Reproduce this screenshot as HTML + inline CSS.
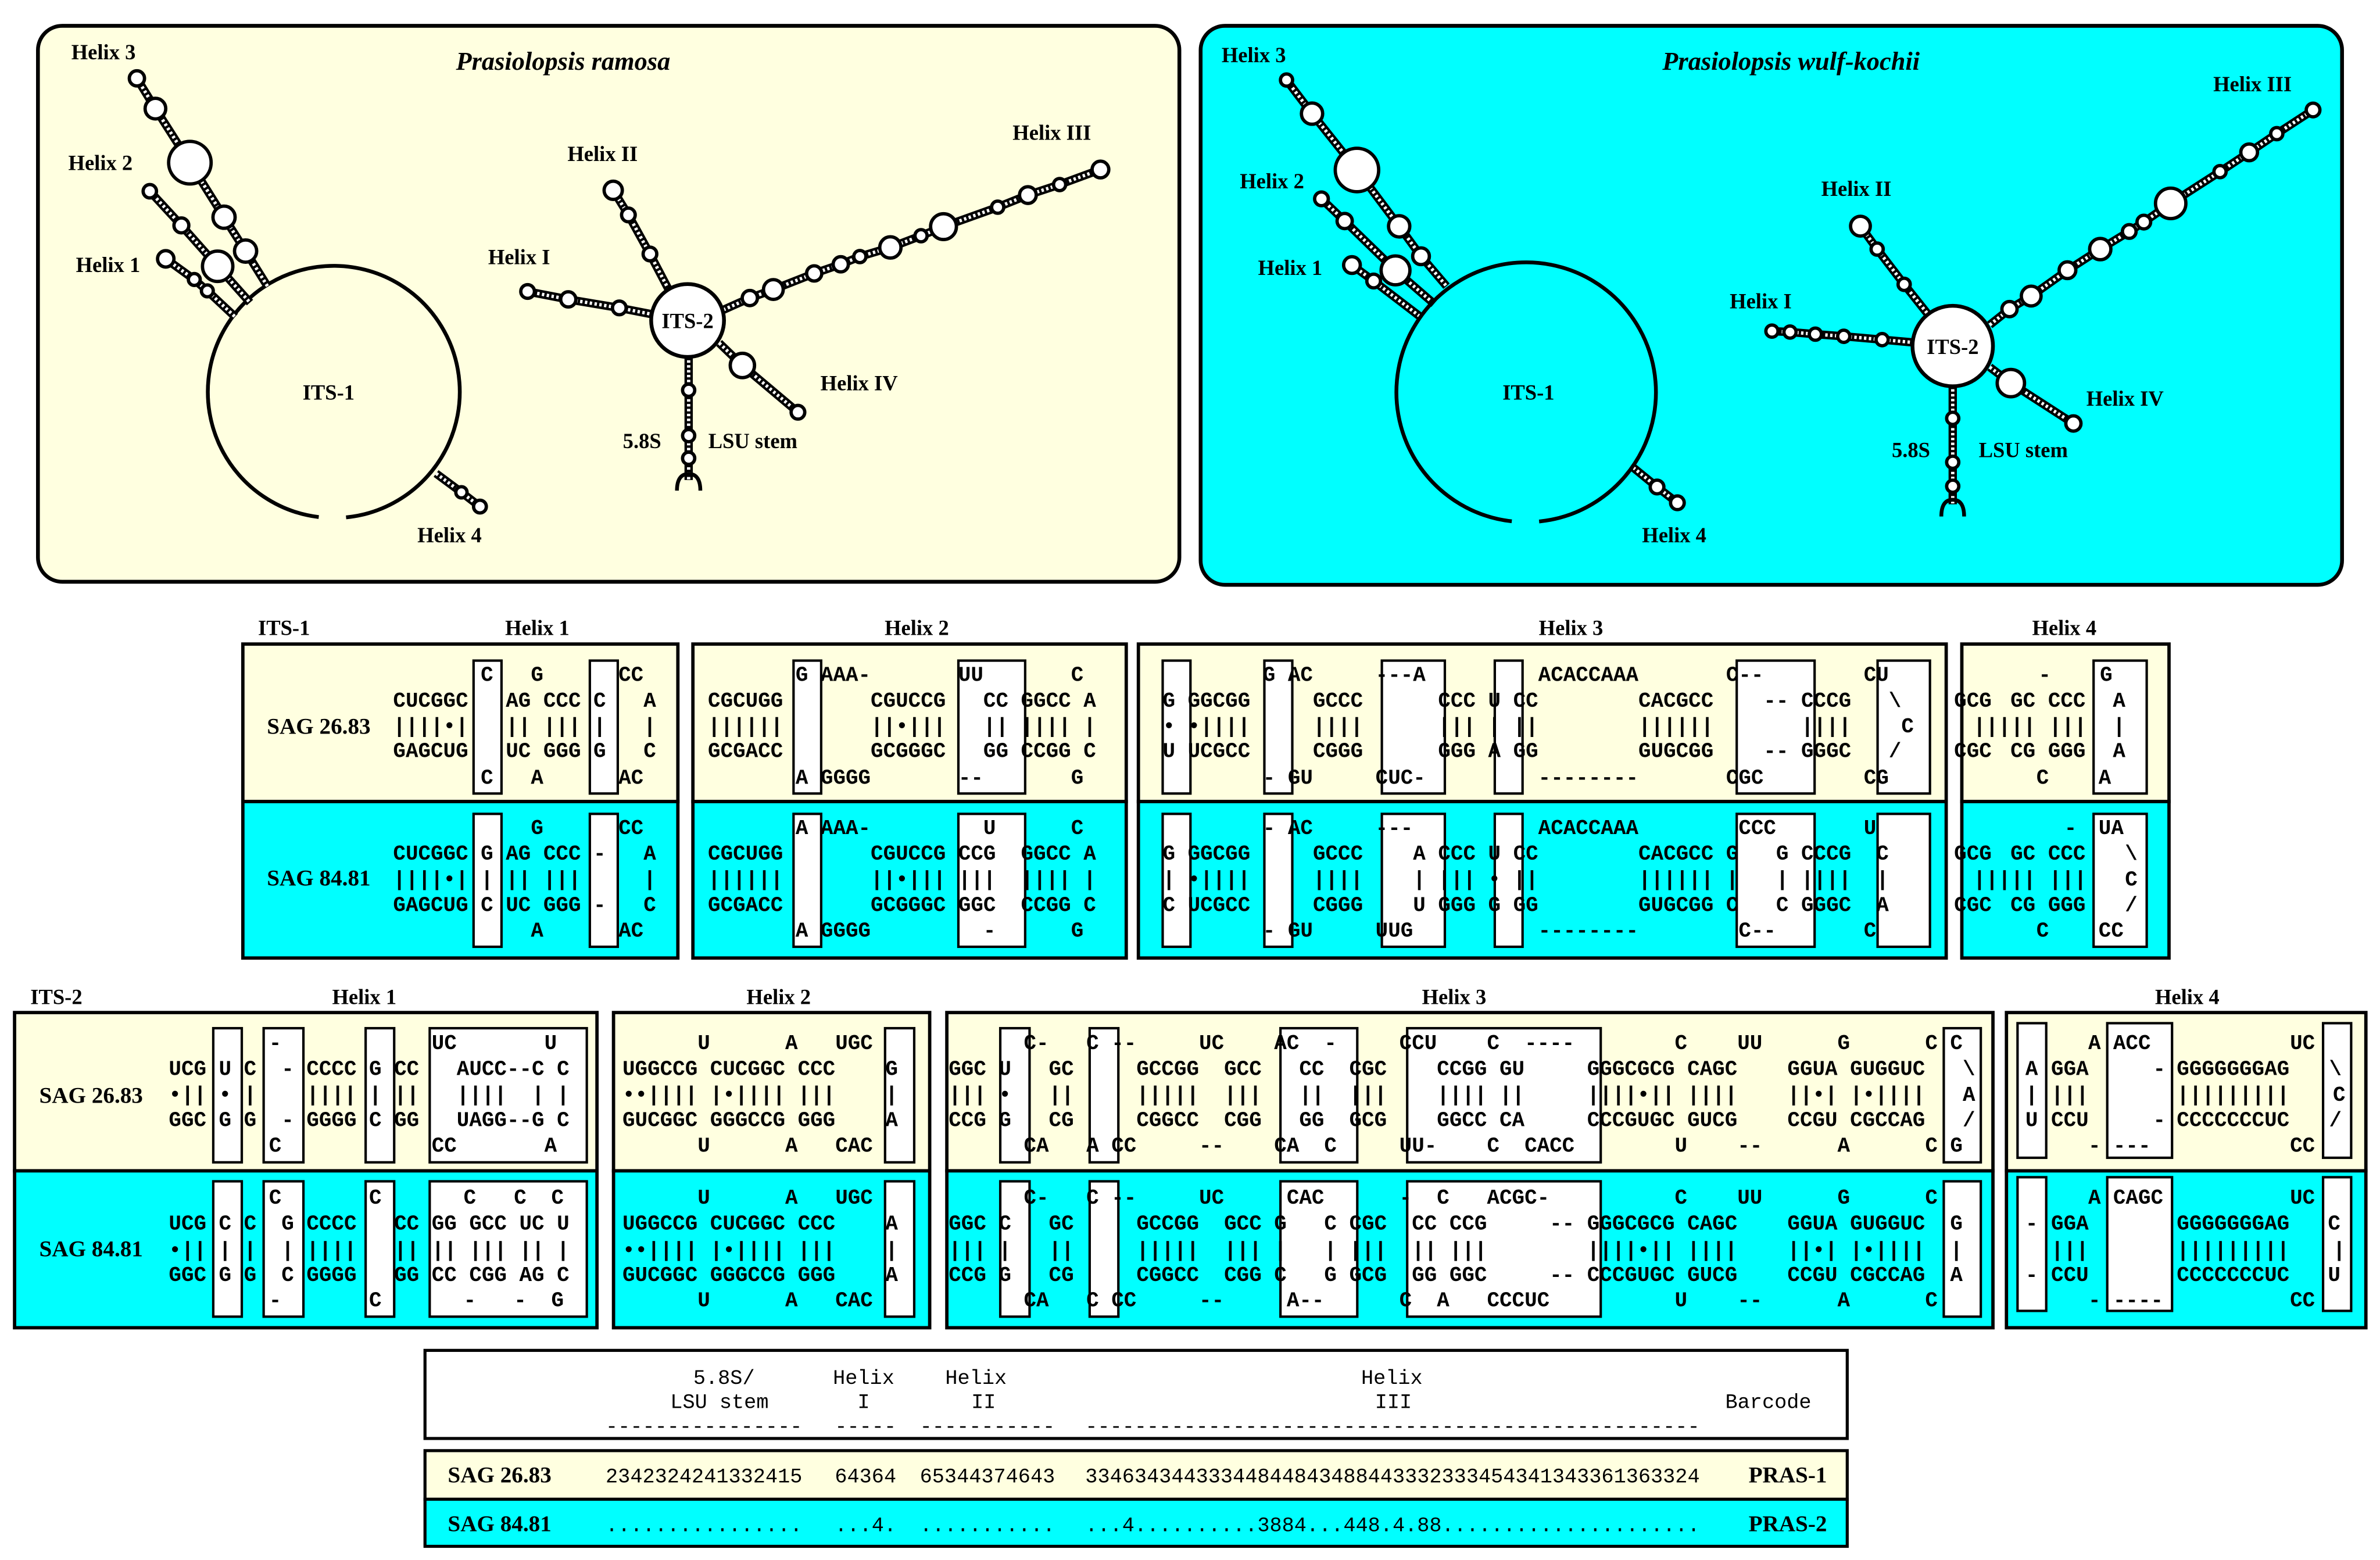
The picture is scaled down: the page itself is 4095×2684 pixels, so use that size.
<!DOCTYPE html>
<html><head><meta charset="utf-8"><style>
html,body{margin:0;padding:0;background:#fff}
svg{display:block}
.m{font-family:"Liberation Mono",monospace;font-size:13.75px;font-weight:bold;white-space:pre}
.t{font-family:"Liberation Serif",serif;font-weight:bold;font-size:14px}
.s{font-family:"Liberation Serif",serif;font-weight:bold;font-size:15px}
.stk{fill:none;stroke:#000;stroke-width:5.5;stroke-linejoin:round}
.stw{fill:none;stroke:#fff;stroke-width:2.2;stroke-dasharray:1.6 1.6}
.c{fill:#fff;stroke:#000;stroke-width:2.2}
.bx{fill:#fff;stroke:#000;stroke-width:1.6}
.pn{stroke:#000;stroke-width:2.2}
</style></head><body>
<svg width="4095" height="2684" viewBox="0 0 1568 1027" preserveAspectRatio="none" xmlns="http://www.w3.org/2000/svg" xml:space="preserve">
<rect width="1568" height="1027" fill="#fff"/>
<rect x="25" y="17" width="752" height="366" rx="16" fill="#FFFFE0" stroke="#000" stroke-width="2.5"/>
<rect x="791" y="17" width="752" height="368" rx="16" fill="#00FFFF" stroke="#000" stroke-width="2.5"/>
<text x="371" y="46" text-anchor="middle" font-family="Liberation Serif" font-weight="bold" font-style="italic" font-size="17">Prasiolopsis ramosa</text>
<text x="1180" y="46" text-anchor="middle" font-family="Liberation Serif" font-weight="bold" font-style="italic" font-size="17">Prasiolopsis wulf-kochii</text>
<path d="M228,340.6 A83,83 0 1,0 210,340.4" fill="none" stroke="#000" stroke-width="2.5"/>
<g>
<path id="l3" d="M90.2,51.6 L102.4,71.5 L125.1,107.1 L147.6,143 L161.8,165.3 L176.4,188.7"/>
<path id="l2" d="M98.7,125.9 L119.5,148.4 L143.4,175.3 L164.7,199.2"/>
<path id="l1" d="M109.2,170.4 L128,184 L136.6,191.5 L154.9,208.6"/>
<path id="l4" d="M287.3,311.7 L304,324.1 L316.2,333.5"/>
<path id="lI" d="M347.6,191.9 L374.4,197.1 L408,202.7 L430,207"/>
<path id="lII" d="M404,125.3 L414,141.5 L428.2,167.2 L440.2,190"/>
<path id="lIII" d="M476.5,204 L494,196.2 L509.5,190.6 L536.4,180 L553.9,174 L566.5,168.9 L586.6,162.9 L606.8,155.2 L621.6,149.2 L657.3,136.4 L677.2,128.4 L698.1,121.5 L725,111.6"/>
<path id="lIV" d="M473.8,225.8 L489.1,240.6 L525.7,271.4"/>
<path id="lL" d="M453.7,234 L453.7,316"/>
<path id="r3" d="M847.6,52.7 L864.4,74.8 L894,111.9 L921.8,149 L936.2,168.7 L953,188.4"/>
<path id="r2" d="M870.6,130.9 L885.9,145.5 L919.4,178 L944.8,200"/>
<path id="r1" d="M890.7,174.5 L905,185 L935.2,208.1"/>
<path id="r4" d="M1076,307.8 L1091.7,320.6 L1105.1,331"/>
<path id="rI" d="M1167.4,218 L1179.3,218.6 L1196,220 L1214.7,221.4 L1240,223.6 L1261,225.5"/>
<path id="rII" d="M1225.7,148.9 L1236.7,164 L1254.5,187.2 L1270.2,206.9"/>
<path id="rIII" d="M1310.9,213.9 L1323.9,203.5 L1338.2,194.9 L1362.1,177.9 L1383.7,164 L1402.8,152.4 L1412.4,146.2 L1430.1,133.9 L1462.6,113 L1481.8,100.3 L1500,88 L1523.9,72.4"/>
<path id="rIV" d="M1310.9,241.7 L1324.8,252.2 L1366,278.8"/>
<path id="rL" d="M1286.5,253 L1286.5,332"/>
</g>
<g class="stk"><use href="#l3"/><use href="#l2"/><use href="#l1"/><use href="#l4"/><use href="#lI"/><use href="#lII"/><use href="#lIII"/><use href="#lIV"/><use href="#lL"/>
<use href="#r3"/><use href="#r2"/><use href="#r1"/><use href="#r4"/><use href="#rI"/><use href="#rII"/><use href="#rIII"/><use href="#rIV"/><use href="#rL"/></g>
<g class="stw"><use href="#l3"/><use href="#l2"/><use href="#l1"/><use href="#l4"/><use href="#lI"/><use href="#lII"/><use href="#lIII"/><use href="#lIV"/><use href="#lL"/>
<use href="#r3"/><use href="#r2"/><use href="#r1"/><use href="#r4"/><use href="#rI"/><use href="#rII"/><use href="#rIII"/><use href="#rIV"/><use href="#rL"/></g>
<path d="M1014,343.3 A85.5,85.5 0 1,0 996,343.2" fill="none" stroke="#000" stroke-width="2.5"/>
<g class="c">
<circle cx="90.2" cy="51.6" r="5"/><circle cx="102.4" cy="71.5" r="6.8"/><circle cx="125.1" cy="107.1" r="14"/><circle cx="147.6" cy="143" r="7.3"/><circle cx="161.8" cy="165.3" r="7.3"/>
<circle cx="98.7" cy="125.9" r="4.4"/><circle cx="119.5" cy="148.4" r="4.9"/><circle cx="143.4" cy="175.3" r="10"/>
<circle cx="109.2" cy="170.4" r="5.4"/><circle cx="128" cy="184" r="3.9"/><circle cx="136.6" cy="191.5" r="3.9"/>
<circle cx="304" cy="324.1" r="3.7"/><circle cx="316.2" cy="333.5" r="4.2"/>
<circle cx="453" cy="211" r="24" stroke-width="2.5"/>
<circle cx="347.6" cy="191.9" r="4.5"/><circle cx="374.4" cy="197.1" r="5"/><circle cx="408" cy="202.7" r="4.5"/>
<circle cx="404" cy="125.3" r="6"/><circle cx="414" cy="141.5" r="4.5"/><circle cx="428.2" cy="167.2" r="4.5"/>
<circle cx="494" cy="196.2" r="5"/><circle cx="509.5" cy="190.6" r="6.5"/><circle cx="536.4" cy="180" r="5"/><circle cx="553.9" cy="174" r="5"/><circle cx="566.5" cy="168.9" r="4"/><circle cx="586.6" cy="162.9" r="7"/><circle cx="606.8" cy="155.2" r="4"/><circle cx="621.6" cy="149.2" r="8.5"/><circle cx="657.3" cy="136.4" r="4"/><circle cx="677.2" cy="128.4" r="5.5"/><circle cx="698.1" cy="121.5" r="4"/><circle cx="725" cy="111.6" r="5.5"/>
<circle cx="489.1" cy="240.6" r="8"/><circle cx="525.7" cy="271.4" r="4.5"/>
<circle cx="453.7" cy="256.9" r="4"/><circle cx="453.7" cy="286.8" r="4"/><circle cx="453.7" cy="301.7" r="4"/>
<circle cx="847.6" cy="52.7" r="4"/><circle cx="864.4" cy="74.8" r="7"/><circle cx="894" cy="111.9" r="14.3"/><circle cx="921.8" cy="149" r="7"/><circle cx="936.2" cy="168.7" r="5.5"/>
<circle cx="870.6" cy="130.9" r="4.5"/><circle cx="885.9" cy="145.5" r="5"/><circle cx="919.4" cy="178" r="9.5"/>
<circle cx="890.7" cy="174.5" r="5.5"/><circle cx="905" cy="185" r="4.5"/>
<circle cx="1091.7" cy="320.6" r="4.5"/><circle cx="1105.1" cy="331" r="4.5"/>
<circle cx="1286.5" cy="227.8" r="26.5" stroke-width="2.5"/>
<circle cx="1167.4" cy="218" r="4"/><circle cx="1179.3" cy="218.6" r="4"/><circle cx="1196" cy="220" r="4"/><circle cx="1214.7" cy="221.4" r="4"/><circle cx="1240" cy="223.6" r="4"/>
<circle cx="1225.7" cy="148.9" r="6.5"/><circle cx="1236.7" cy="164" r="4"/><circle cx="1254.5" cy="187.2" r="4"/>
<circle cx="1323.9" cy="203.5" r="5"/><circle cx="1338.2" cy="194.9" r="6.5"/><circle cx="1362.1" cy="177.9" r="5.5"/><circle cx="1383.7" cy="164" r="7"/><circle cx="1402.8" cy="152.4" r="4.5"/><circle cx="1412.4" cy="146.2" r="4.5"/><circle cx="1430.1" cy="133.9" r="10"/><circle cx="1462.6" cy="113" r="4"/><circle cx="1481.8" cy="100.3" r="5.5"/><circle cx="1500" cy="88" r="4"/><circle cx="1523.9" cy="72.4" r="4.5"/>
<circle cx="1324.8" cy="252.2" r="9"/><circle cx="1366" cy="278.8" r="5"/>
<circle cx="1286.5" cy="275.4" r="4"/><circle cx="1286.5" cy="304.3" r="4"/><circle cx="1286.5" cy="320.1" r="4"/>
</g>
<path d="M446,323 Q446,312 453.7,312 Q461.4,312 461.4,323" fill="none" stroke="#000" stroke-width="2.5"/>
<path d="M1279,340 Q1279,329 1286.5,329 Q1294,329 1294,340" fill="none" stroke="#000" stroke-width="2.5"/>
<g class="t">
<text x="47" y="39">Helix 3</text><text x="45" y="112">Helix 2</text><text x="50" y="179">Helix 1</text><text x="275" y="357">Helix 4</text>
<text x="216.5" y="263" text-anchor="middle">ITS-1</text>
<text x="342" y="174" text-anchor="middle">Helix I</text><text x="397" y="106" text-anchor="middle">Helix II</text><text x="693" y="92" text-anchor="middle">Helix III</text><text x="566" y="257" text-anchor="middle">Helix IV</text>
<text x="453" y="216" text-anchor="middle">ITS-2</text>
<text x="423" y="295" text-anchor="middle">5.8S</text><text x="496" y="295" text-anchor="middle">LSU stem</text>
<text x="826" y="41" text-anchor="middle">Helix 3</text><text x="838" y="124" text-anchor="middle">Helix 2</text><text x="850" y="181" text-anchor="middle">Helix 1</text><text x="1103" y="357" text-anchor="middle">Helix 4</text>
<text x="1007" y="263" text-anchor="middle">ITS-1</text>
<text x="1160" y="203" text-anchor="middle">Helix I</text><text x="1223" y="129" text-anchor="middle">Helix II</text><text x="1484" y="60" text-anchor="middle">Helix III</text><text x="1400" y="267" text-anchor="middle">Helix IV</text>
<text x="1286.5" y="233" text-anchor="middle">ITS-2</text>
<text x="1259" y="301" text-anchor="middle">5.8S</text><text x="1333" y="301" text-anchor="middle">LSU stem</text>
</g>

<g class="t">
<text x="170" y="418">ITS-1</text>
<text x="354" y="418" text-anchor="middle">Helix 1</text><text x="604" y="418" text-anchor="middle">Helix 2</text><text x="1035" y="418" text-anchor="middle">Helix 3</text><text x="1360" y="418" text-anchor="middle">Helix 4</text>
</g>
<g class="pn">
<rect x="160" y="424" width="286.6" height="103.7" fill="#FFFFE0"/><rect x="160" y="527.7" width="286.6" height="103" fill="#00FFFF"/>
<rect x="456.5" y="424" width="285.5" height="103.7" fill="#FFFFE0"/><rect x="456.5" y="527.7" width="285.5" height="103" fill="#00FFFF"/>
<rect x="750" y="424" width="532.2" height="103.7" fill="#FFFFE0"/><rect x="750" y="527.7" width="532.2" height="103" fill="#00FFFF"/>
<rect x="1292.5" y="424" width="136.5" height="103.7" fill="#FFFFE0"/><rect x="1292.5" y="527.7" width="136.5" height="103" fill="#00FFFF"/>
</g>
<g class="bx">
<rect x="312" y="434.9" width="18.4" height="87.5"/><rect x="388.6" y="434.9" width="18.4" height="87.5"/>
<rect x="312" y="535.8" width="18.4" height="87.5"/><rect x="388.6" y="535.8" width="18.4" height="87.5"/>
<rect x="522.8" y="434.9" width="18.2" height="87.5"/><rect x="631.4" y="434.9" width="44" height="87.5"/>
<rect x="522.8" y="535.8" width="18.2" height="87.5"/><rect x="631.4" y="535.8" width="44" height="87.5"/>
<rect x="766" y="434.9" width="18.3" height="87.5"/><rect x="833" y="434.9" width="18.4" height="87.5"/><rect x="910.4" y="434.9" width="41.5" height="87.5"/><rect x="984.8" y="434.9" width="18.3" height="87.5"/><rect x="1144.2" y="434.9" width="51.3" height="87.5"/><rect x="1237" y="434.9" width="34.5" height="87.5"/>
<rect x="766" y="535.8" width="18.3" height="87.5"/><rect x="833" y="535.8" width="18.4" height="87.5"/><rect x="910.4" y="535.8" width="41.5" height="87.5"/><rect x="984.8" y="535.8" width="18.3" height="87.5"/><rect x="1144.2" y="535.8" width="51.3" height="87.5"/><rect x="1237" y="535.8" width="34.5" height="87.5"/>
<rect x="1379.3" y="434.9" width="35" height="87.5"/><rect x="1379.3" y="535.8" width="35" height="87.5"/>
</g>
<g class="s"><text x="210" y="483" text-anchor="middle">SAG 26.83</text><text x="210" y="583" text-anchor="middle">SAG 84.81</text></g>
<g class="m" xml:space="preserve">
<text xml:space="preserve" x="259" y="448.3">       C   G      CC</text>
<text xml:space="preserve" x="259" y="465.2">CUCGGC   AG CCC C   A</text>
<text xml:space="preserve" x="259" y="482.1">||||•|   || ||| |   |</text>
<text xml:space="preserve" x="259" y="498.3">GAGCUG   UC GGG G   C</text>
<text xml:space="preserve" x="259" y="515.9">       C   A      AC</text>
<text xml:space="preserve" x="259" y="549.1">           G      CC</text>
<text xml:space="preserve" x="259" y="566">CUCGGC G AG CCC -   A</text>
<text xml:space="preserve" x="259" y="582.9">||||•| | || |||     |</text>
<text xml:space="preserve" x="259" y="599.8">GAGCUG C UC GGG -   C</text>
<text xml:space="preserve" x="259" y="616.7">           A      AC</text>

<text xml:space="preserve" x="466.4" y="448.3">       G AAA-       UU       C</text>
<text xml:space="preserve" x="466.4" y="465.2">CGCUGG       CGUCCG   CC GGCC A</text>
<text xml:space="preserve" x="466.4" y="482.1">||||||       ||•|||   || |||| |</text>
<text xml:space="preserve" x="466.4" y="498.3">GCGACC       GCGGGC   GG CCGG C</text>
<text xml:space="preserve" x="466.4" y="515.9">       A GGGG       --       G</text>
<text xml:space="preserve" x="466.4" y="549.1">       A AAA-         U      C</text>
<text xml:space="preserve" x="466.4" y="566">CGCUGG       CGUCCG CCG  GGCC A</text>
<text xml:space="preserve" x="466.4" y="582.9">||||||       ||•||| |||  |||| |</text>
<text xml:space="preserve" x="466.4" y="599.8">GCGACC       GCGGGC GGC  CCGG C</text>
<text xml:space="preserve" x="466.4" y="616.7">       A GGGG         -      G</text>

<text xml:space="preserve" x="766" y="448.3">        G AC     ---A         ACACCAAA       C--        CU</text>
<text xml:space="preserve" x="766" y="465.2">G GGCGG     GCCC      CCC U CC        CACGCC    -- CCCG   \</text>
<text xml:space="preserve" x="766" y="482.1">• •||||     ||||      ||| | ||        ||||||       ||||    C</text>
<text xml:space="preserve" x="766" y="498.3">U UCGCC     CGGG      GGG A GG        GUGCGG    -- GGGC   /</text>
<text xml:space="preserve" x="766" y="515.9">        - GU     CUC-         --------       CGC        CG</text>
<text xml:space="preserve" x="766" y="549.1">        - AC     ---          ACACCAAA        CCC       U</text>
<text xml:space="preserve" x="766" y="566">G GGCGG     GCCC    A CCC U CC        CACGCC G   G CCCG  C</text>
<text xml:space="preserve" x="766" y="582.9">| •||||     ||||    | ||| • ||        |||||| |   | ||||  |</text>
<text xml:space="preserve" x="766" y="599.8">C UCGCC     CGGG    U GGG G GG        GUGCGG C   C GGGC  A</text>
<text xml:space="preserve" x="766" y="616.7">        - GU     UUG          --------        C--       C</text>

<text x="1343" y="448.3">-</text><text x="1383.5" y="448.3">G</text>
<text x="1287.4" y="465.2">GCG</text><text x="1324.5" y="465.2">GC</text><text x="1349.3" y="465.2">CCC</text><text x="1392" y="465.2">A</text>
<text x="1300" y="482.1">|||||</text><text x="1350" y="482.1">|||</text><text x="1392" y="482.1">|</text>
<text x="1287.4" y="498.3">CGC</text><text x="1324.5" y="498.3">CG</text><text x="1349.3" y="498.3">GGG</text><text x="1392" y="498.3">A</text>
<text x="1341.6" y="515.9">C</text><text x="1382.6" y="515.9">A</text>
<text x="1360" y="549.1">-</text><text x="1382.6" y="549.1">UA</text>
<text x="1287.4" y="566">GCG</text><text x="1324.5" y="566">GC</text><text x="1349.3" y="566">CCC</text><text x="1400" y="566">\</text>
<text x="1300" y="582.9">|||||</text><text x="1350" y="582.9">|||</text><text x="1400" y="582.9">C</text>
<text x="1287.4" y="599.8">CGC</text><text x="1324.5" y="599.8">CG</text><text x="1349.3" y="599.8">GGG</text><text x="1400" y="599.8">/</text>
<text x="1341.6" y="616.7">C</text><text x="1382.6" y="616.7">CC</text>
</g>

<g class="t">
<text x="20" y="661">ITS-2</text>
<text x="240" y="661" text-anchor="middle">Helix 1</text><text x="513" y="661" text-anchor="middle">Helix 2</text><text x="958" y="661" text-anchor="middle">Helix 3</text><text x="1441" y="661" text-anchor="middle">Helix 4</text>
</g>
<g class="pn">
<rect x="9.6" y="666.6" width="383.7" height="104.2" fill="#FFFFE0"/><rect x="9.6" y="770.8" width="383.7" height="103.3" fill="#00FFFF"/>
<rect x="404.2" y="666.6" width="208.3" height="104.2" fill="#FFFFE0"/><rect x="404.2" y="770.8" width="208.3" height="103.3" fill="#00FFFF"/>
<rect x="623.8" y="666.6" width="689.2" height="104.2" fill="#FFFFE0"/><rect x="623.8" y="770.8" width="689.2" height="103.3" fill="#00FFFF"/>
<rect x="1321.9" y="666.6" width="236.8" height="104.2" fill="#FFFFE0"/><rect x="1321.9" y="770.8" width="236.8" height="103.3" fill="#00FFFF"/>
</g>
<g class="bx">
<rect x="140.5" y="676.9" width="18.8" height="88.3"/><rect x="173.7" y="676.9" width="26.2" height="88.3"/><rect x="240.9" y="676.9" width="18.8" height="88.3"/><rect x="283.1" y="676.9" width="103.5" height="88.3"/>
<rect x="140.5" y="777.7" width="18.8" height="89.1"/><rect x="173.7" y="777.7" width="26.2" height="89.1"/><rect x="240.9" y="777.7" width="18.8" height="89.1"/><rect x="283.1" y="777.7" width="103.5" height="89.1"/>
<rect x="583.1" y="676.9" width="19.2" height="88.3"/><rect x="583.1" y="777.7" width="19.2" height="89.1"/>
<rect x="659" y="676.9" width="19.3" height="88.3"/><rect x="717.9" y="676.9" width="18.9" height="88.3"/><rect x="843.6" y="676.9" width="50.6" height="88.3"/><rect x="927.1" y="676.9" width="127.5" height="88.3"/><rect x="1280.6" y="676.9" width="24.4" height="88.3"/>
<rect x="659" y="777.7" width="19.3" height="89.1"/><rect x="717.9" y="777.7" width="18.9" height="89.1"/><rect x="843.6" y="777.7" width="50.6" height="89.1"/><rect x="927.1" y="777.7" width="127.5" height="89.1"/><rect x="1280.6" y="777.7" width="24.4" height="89.1"/>
<rect x="1329.2" y="673.6" width="18.9" height="88.6"/><rect x="1388.3" y="673.6" width="42.7" height="88.6"/><rect x="1530.5" y="673.6" width="18.5" height="88.6"/>
<rect x="1329.2" y="775" width="18.9" height="88"/><rect x="1388.3" y="775" width="42.7" height="88"/><rect x="1530.5" y="775" width="18.5" height="88"/>
</g>
<g class="s"><text x="60" y="726" text-anchor="middle">SAG 26.83</text><text x="60" y="827" text-anchor="middle">SAG 84.81</text></g>
<g class="m" xml:space="preserve">
<text xml:space="preserve" x="111.2" y="690.7">        -            UC       U</text>
<text xml:space="preserve" x="111.2" y="707.6">UCG U C  - CCCC G CC   AUCC--C C</text>
<text xml:space="preserve" x="111.2" y="724.8">•|| • |    |||| | ||   ||||  | |</text>
<text xml:space="preserve" x="111.2" y="741.4">GGC G G  - GGGG C GG   UAGG--G C</text>
<text xml:space="preserve" x="111.2" y="758.2">        C            CC       A</text>
<text xml:space="preserve" x="111.2" y="792.5">        C       C</text><text x="305.4" y="792.5">C</text><text x="338.6" y="792.5">C</text><text x="363.2" y="792.5">C</text>
<text xml:space="preserve" x="111.2" y="809.5">UCG C C  G CCCC   CC GG GCC UC U</text>
<text xml:space="preserve" x="111.2" y="827.1">•|| | |  | ||||   || || ||| || |</text>
<text xml:space="preserve" x="111.2" y="843.3">GGC G G  C GGGG   GG CC CGG AG C</text>
<text xml:space="preserve" x="111.2" y="859.9">        -       C</text><text x="305.4" y="859.9">-</text><text x="338.6" y="859.9">-</text><text x="363.2" y="859.9">G</text>

<text xml:space="preserve" x="410.1" y="690.7">      U      A   UGC</text>
<text xml:space="preserve" x="410.1" y="707.6">UGGCCG CUCGGC CCC    G</text>
<text xml:space="preserve" x="410.1" y="724.8">••|||| |•|||| |||    |</text>
<text xml:space="preserve" x="410.1" y="741.4">GUCGGC GGGCCG GGG    A</text>
<text xml:space="preserve" x="410.1" y="758.2">      U      A   CAC</text>
<text xml:space="preserve" x="410.1" y="792.5">      U      A   UGC</text>
<text xml:space="preserve" x="410.1" y="809.5">UGGCCG CUCGGC CCC    A</text>
<text xml:space="preserve" x="410.1" y="827.1">••|||| |•|||| |||    |</text>
<text xml:space="preserve" x="410.1" y="843.3">GUCGGC GGGCCG GGG    A</text>
<text xml:space="preserve" x="410.1" y="859.9">      U      A   CAC</text>

<text xml:space="preserve" x="625" y="690.7">      C-   C --     UC    AC  -     CCU    C  ----        C    UU      G      C C</text>
<text xml:space="preserve" x="625" y="707.6">GGC U   GC     GCCGG  GCC   CC  CGC    CCGG GU     GGGCGCG CAGC    GGUA GUGGUC   \</text>
<text xml:space="preserve" x="625" y="724.8">||| •   ||     |||||  |||   ||  |||    |||| ||     ||||•|| ||||    ||•| |•||||   A</text>
<text xml:space="preserve" x="625" y="741.4">CCG G   CG     CGGCC  CGG   GG  GCG    GGCC CA     CCCGUGC GUCG    CCGU CGCCAG   /</text>
<text xml:space="preserve" x="625" y="758.2">      CA   A CC     --    CA  C     UU-    C  CACC        U    --      A      C G</text>
<text xml:space="preserve" x="625" y="792.5">      C-   C --     UC     CAC      -  C   ACGC-          C    UU      G      C</text>
<text xml:space="preserve" x="625" y="809.5">GGC C   GC     GCCGG  GCC G   C CGC  CC CCG     -- GGGCGCG CAGC    GGUA GUGGUC  G</text>
<text xml:space="preserve" x="625" y="827.1">||| |   ||     |||||  ||| |   | |||  || |||        ||||•|| ||||    ||•| |•||||  |</text>
<text xml:space="preserve" x="625" y="843.3">CCG G   CG     CGGCC  CGG C   G GCG  GG GGC     -- CCCGUGC GUCG    CCGU CGCCAG  A</text>
<text xml:space="preserve" x="625" y="859.9">      CA   C CC     --     A--      C  A   CCCUC          U    --      A      C</text>

<text x="1375.8" y="690.7">A</text><text x="1392.2" y="690.7">ACC</text><text x="1508.7" y="690.7">UC</text>
<text x="1334.4" y="707.6">A</text><text x="1351.3" y="707.6">GGA</text><text x="1418.5" y="707.6">-</text><text x="1434.1" y="707.6">GGGGGGGAG</text><text x="1534.5" y="707.6">\</text>
<text x="1334.4" y="724.8">|</text><text x="1351.3" y="724.8">|||</text><text x="1434.1" y="724.8">|||||||||</text><text x="1537" y="724.8">C</text>
<text x="1334.4" y="741.4">U</text><text x="1351.3" y="741.4">CCU</text><text x="1418.5" y="741.4">-</text><text x="1434.1" y="741.4">CCCCCCCUC</text><text x="1534.5" y="741.4">/</text>
<text x="1375.8" y="758.2">-</text><text x="1392.2" y="758.2">---</text><text x="1508.7" y="758.2">CC</text>
<text x="1375.8" y="792.5">A</text><text x="1392.2" y="792.5">CAGC</text><text x="1508.7" y="792.5">UC</text>
<text x="1334.4" y="809.5">-</text><text x="1351.3" y="809.5">GGA</text><text x="1434.1" y="809.5">GGGGGGGAG</text><text x="1533.7" y="809.5">C</text>
<text x="1351.3" y="827.1">|||</text><text x="1434.1" y="827.1">|||||||||</text><text x="1537" y="827.1">|</text>
<text x="1334.4" y="843.3">-</text><text x="1351.3" y="843.3">CCU</text><text x="1434.1" y="843.3">CCCCCCCUC</text><text x="1533.7" y="843.3">U</text>
<text x="1375.8" y="859.9">-</text><text x="1392.2" y="859.9">----</text><text x="1508.7" y="859.9">CC</text>
</g>

<rect x="280" y="889" width="937" height="58" fill="#fff" stroke="#000" stroke-width="2"/>
<rect x="280" y="955" width="937" height="32" fill="#FFFFE0" stroke="#000" stroke-width="2"/>
<rect x="280" y="987" width="937" height="31" fill="#00FFFF" stroke="#000" stroke-width="2"/>
<g class="m" style="font-weight:normal;font-size:13.5px">
<text x="477" y="911" text-anchor="middle">5.8S/</text><text x="474" y="927" text-anchor="middle">LSU stem</text>
<text x="569" y="911" text-anchor="middle">Helix</text><text x="569" y="927" text-anchor="middle">I</text>
<text x="643" y="911" text-anchor="middle">Helix</text><text x="648" y="927" text-anchor="middle">II</text>
<text x="917" y="911" text-anchor="middle">Helix</text><text x="918" y="927" text-anchor="middle">III</text>
<text x="1165" y="927" text-anchor="middle">Barcode</text>
<text x="399" y="943">----------------</text><text x="550" y="943">-----</text><text x="606" y="943">-----------</text><text x="715" y="943">--------------------------------------------------</text>
<text x="399" y="976">2342324241332415</text><text x="550" y="976">64364</text><text x="606" y="976">65344374643</text><text x="715" y="976">33463434433344844843488443332333454341343361363324</text>
<text x="399" y="1008">................</text><text x="550" y="1008">...4.</text><text x="606" y="1008">...........</text><text x="715" y="1008">...4..........3884...448.4.88.....................</text>
</g>
<g class="s"><text x="295" y="976">SAG 26.83</text><text x="295" y="1008">SAG 84.81</text><text x="1152" y="976">PRAS-1</text><text x="1152" y="1008">PRAS-2</text></g>
</svg>
</body></html>
